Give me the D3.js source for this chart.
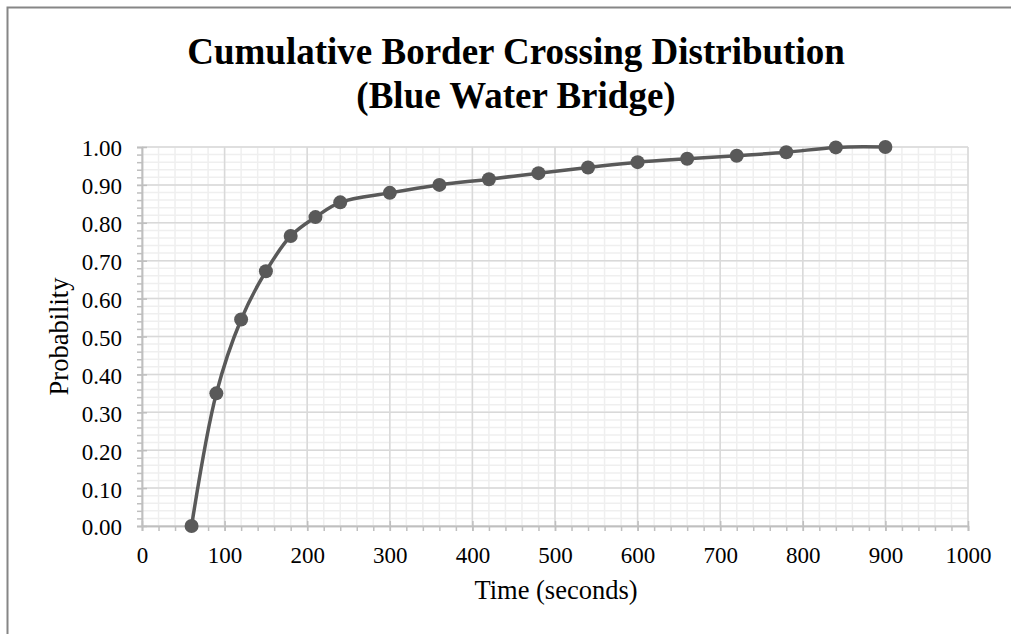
<!DOCTYPE html>
<html>
<head>
<meta charset="utf-8">
<script src="https://cdn.jsdelivr.net/npm/d3@7"></script>
<style>
  html, body { margin: 0; padding: 0; background: #fff; }
  svg { display: block; }
  text { font-family: "Liberation Serif", "Times New Roman", serif; fill: #000; }
</style>
</head>
<body>
<div id="chart"></div>
<script>
// ---- data ----
const timeSeconds = [60, 90, 120, 150, 180, 210, 240, 300, 360, 420, 480, 540, 600, 660, 720, 780, 840, 900];
const probability = [0.00, 0.35, 0.545, 0.672, 0.765, 0.815, 0.854, 0.879, 0.900, 0.915, 0.931, 0.946, 0.960, 0.969, 0.977, 0.986, 0.999, 1.000];
const xTicks = [0, 100, 200, 300, 400, 500, 600, 700, 800, 900, 1000];
const yTicks = [0.0, 0.1, 0.2, 0.3, 0.4, 0.5, 0.6, 0.7, 0.8, 0.9, 1.0];
const titleLines = ["Cumulative Border Crossing Distribution", "(Blue Water Bridge)"];
const xTitle = "Time (seconds)";
const yTitle = "Probability";

const W = 1011, H = 634;
const svg = d3.select("#chart").append("svg").attr("width", W).attr("height", H);

// outer chart border (only top/left visible)
svg.append("rect").attr("x", 7.5).attr("y", 7.5).attr("width", 1100).attr("height", 700)
  .attr("fill", "none").attr("stroke", "#868686").attr("stroke-width", 2);

const x = d3.scaleLinear().domain([0, 1000]).range([142, 968]);
const y = d3.scaleLinear().domain([0, 1]).range([526, 147]);

// minor gridlines
const xMinor = d3.range(0, 1000.1, 20);
const yMinor = d3.range(0, 50.1, 1).map(d => d / 50);
const grid = svg.append("g");
grid.selectAll(".vminor").data(xMinor).enter().append("line")
  .attr("x1", d => x(d)).attr("x2", d => x(d)).attr("y1", y(0)).attr("y2", y(1))
  .attr("stroke", "#efefef").attr("stroke-width", 1.5);
grid.selectAll(".hminor").data(yMinor).enter().append("line")
  .attr("y1", d => y(d)).attr("y2", d => y(d)).attr("x1", x(0)).attr("x2", x(1000))
  .attr("stroke", "#efefef").attr("stroke-width", 1.5);
// major gridlines
grid.selectAll(".vmajor").data(xTicks).enter().append("line")
  .attr("x1", d => x(d)).attr("x2", d => x(d)).attr("y1", y(0)).attr("y2", y(1))
  .attr("stroke", "#d9d9d9").attr("stroke-width", 1.5);
grid.selectAll(".hmajor").data(yTicks).enter().append("line")
  .attr("y1", d => y(d)).attr("y2", d => y(d)).attr("x1", x(0)).attr("x2", x(1000))
  .attr("stroke", "#d9d9d9").attr("stroke-width", 1.5);

// axes
const axisColor = "#bfbfbf";
const xAxisMinor = d3.axisBottom(x).tickValues(xMinor).tickSize(5).tickFormat("");
const xAxisMajor = d3.axisBottom(x).tickValues(xTicks).tickSize(5).tickSizeOuter(0).tickFormat(d3.format("d"));
const yAxisMinor = d3.axisLeft(y).tickValues(yMinor).tickSize(5).tickFormat("");
const yAxisMajor = d3.axisLeft(y).tickValues(yTicks).tickSize(5).tickSizeOuter(0).tickFormat(d3.format(".2f"));

function styleAxis(g) {
  g.selectAll("path").attr("stroke", axisColor).attr("stroke-width", 1.5);
  g.selectAll("line").attr("stroke", axisColor).attr("stroke-width", 1.5);
  g.selectAll("text").attr("font-family", '"Liberation Serif", "Times New Roman", serif').attr("font-size", 23).attr("fill", "#000");
}
svg.append("g").attr("transform", `translate(0,${y(0)})`).call(xAxisMinor).call(styleAxis);
const gx = svg.append("g").attr("transform", `translate(0,${y(0)})`).call(xAxisMajor).call(styleAxis);
gx.selectAll(".tick line").attr("y1", -5);
gx.selectAll(".tick text").attr("dy", "0.71em").attr("y", 21);
svg.append("g").attr("transform", `translate(${x(0)},0)`).call(yAxisMinor).call(styleAxis);
const gy = svg.append("g").attr("transform", `translate(${x(0)},0)`).call(yAxisMajor).call(styleAxis);
gy.selectAll(".tick line").attr("x1", 5);
gy.selectAll(".tick text").attr("x", -20).attr("dy", "0.39em");

// line
const pts = timeSeconds.map((t, i) => [t, probability[i]]);
svg.append("path").datum(pts)
  .attr("fill", "none").attr("stroke", "#595959").attr("stroke-width", 3.5)
  .attr("stroke-linejoin", "round").attr("stroke-linecap", "round")
  .attr("d", d3.line().x(d => x(d[0])).y(d => y(d[1])).curve(d3.curveCatmullRom.alpha(0.5)));
svg.append("g").selectAll("circle").data(pts).enter().append("circle")
  .attr("cx", d => x(d[0])).attr("cy", d => y(d[1])).attr("r", 7)
  .attr("fill", "#595959");

// titles
svg.append("g").selectAll("text").data(titleLines).enter().append("text")
  .attr("x", 516).attr("y", (d, i) => 64 + i * 44)
  .attr("text-anchor", "middle").attr("font-weight", "bold").attr("font-size", 37)
  .text(d => d);
svg.append("text").attr("x", 556).attr("y", 599).attr("text-anchor", "middle")
  .attr("font-size", 26.5).text(xTitle);
svg.append("text").attr("transform", `translate(68,${(y(0) + y(1)) / 2}) rotate(-90)`)
  .attr("text-anchor", "middle").attr("font-size", 26.5).text(yTitle);
</script>
</body>
</html>
